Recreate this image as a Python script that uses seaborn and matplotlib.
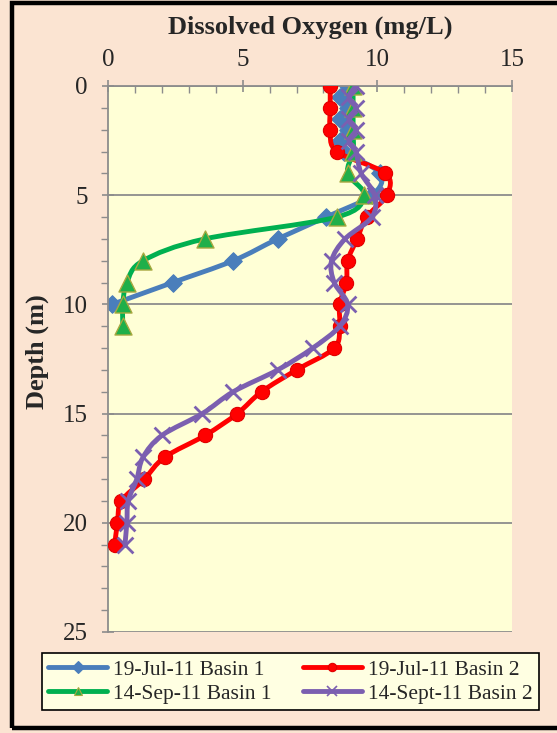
import numpy as np
import pandas as pd
import matplotlib
matplotlib.use("Agg")
import matplotlib.pyplot as plt
from matplotlib.patches import Rectangle, PathPatch
from matplotlib.path import Path
from matplotlib.lines import Line2D
from matplotlib.ticker import MultipleLocator
import seaborn as sns

# Dissolved oxygen profiles (mg/L) against depth (m)
jul_b1_depth = [0, 0.5, 1, 1.5, 2, 2.5, 3, 4, 5, 6, 7, 8, 9, 10]
jul_b1_do = [8.9, 8.6, 8.9, 8.6, 8.9, 8.6, 8.75, 10.1, 9.8, 8.1, 6.3, 4.65, 2.4, 0.15]

jul_b2_depth = list(range(0, 22))
jul_b2_do = [8.25, 8.25, 8.25, 8.5, 10.3, 10.35, 9.6, 9.25, 8.9, 8.85, 8.6,
             8.6, 8.4, 7.0, 5.7, 4.8, 3.6, 2.1, 1.35, 0.5, 0.35, 0.25]

sep_b1_depth = list(range(0, 12))
sep_b1_do = [9.1, 9.1, 9.1, 9.1, 8.9, 9.5, 8.5, 3.6, 1.3, 0.7, 0.55, 0.55]

sep_b2_depth = [0, 0.5, 1, 1.5, 2, 2.5, 3] + list(range(4, 22))
sep_b2_do = [9.2, 8.95, 9.2, 8.95, 9.2, 8.95, 9.2,
             9.4, 9.9, 9.8, 8.8, 8.3, 8.4, 8.9, 8.6, 7.6, 6.3, 4.65, 3.5,
             2.0, 1.3, 1.07, 0.75, 0.7, 0.63]

x_ticks = [0, 5, 10, 15]
y_ticks = [0, 5, 10, 15, 20, 25]

PEACH = "#FBE4D2"
PLOT_BG = "#FFFFD6"
LINE_W = 3.5


def smooth_path(xs, ys):
    """Cubic Bezier path through the points (spreadsheet-style smoothed line)."""
    pts = np.column_stack([xs, ys]).astype(float)
    n = len(pts)
    verts = [pts[0]]
    codes = [Path.MOVETO]
    for i in range(n - 1):
        p0 = pts[i - 1] if i > 0 else pts[i]
        p1, p2 = pts[i], pts[i + 1]
        p3 = pts[i + 2] if i + 2 < n else pts[i + 1]
        c1 = p1 + (p2 - p0) / 6.0
        c2 = p2 - (p3 - p1) / 6.0
        verts += [c1, c2, p2]
        codes += [Path.CURVE4] * 3
    return Path(verts, codes)


sns.set_style("white")
plt.rcParams["font.family"] = ["Liberation Serif", "DejaVu Serif"]

fig = plt.figure(figsize=(5.57, 7.33), dpi=100, facecolor=PEACH)
ax = fig.add_axes([108 / 557, 1 - 632 / 733, (512 - 108) / 557, (632 - 86) / 733])
ax.set_facecolor(PLOT_BG)

series = [
    ("19-Jul-11 Basin 1", jul_b1_depth, jul_b1_do, "#4A7EBB",
     dict(marker="D", s=80, edgecolor="#4A7EBB", facecolor="#4A7EBB", linewidth=0.8)),
    ("19-Jul-11 Basin 2", jul_b2_depth, jul_b2_do, "#FF0000",
     dict(marker="o", s=105, edgecolor="#E00000", facecolor="#FF0000", linewidth=0.8)),
    ("14-Sep-11 Basin 1", sep_b1_depth, sep_b1_do, "#00B050",
     dict(marker="^", s=150, edgecolor="#A8A840", facecolor="#1FAF4A", linewidth=1.0)),
    ("14-Sept-11 Basin 2", sep_b2_depth, sep_b2_do, "#7B5FB0",
     dict(marker="x", s=130, color="#7B5FB0", linewidth=2.0)),
]

legend_handles = []
for k, (label, depth, do, color, mstyle) in enumerate(series):
    df = pd.DataFrame({"do": do, "depth": depth})
    ax.add_patch(PathPatch(smooth_path(df["do"], df["depth"]), fill=False,
                           edgecolor=color, lw=LINE_W, capstyle="round",
                           joinstyle="round", zorder=2 + k))
    sns.scatterplot(data=df, x="do", y="depth", ax=ax, zorder=2.5 + k,
                    legend=False, **mstyle)
    mk = mstyle["marker"]
    mec = mstyle.get("edgecolor", color)
    mfc = mstyle.get("facecolor", color)
    legend_handles.append(Line2D([], [], color=color, lw=LINE_W, marker=mk,
                                 ms=6 if mk != "x" else 7, mec=mec, mfc=mfc,
                                 mew=1.2 if mk == "x" else 0.8, label=label))

ax.set_xlim(0, 15)
ax.set_ylim(25, 0)
ax.set_xticks(x_ticks)
ax.set_yticks(y_ticks)
ax.xaxis.set_minor_locator(MultipleLocator(1))
ax.yaxis.set_minor_locator(MultipleLocator(1))
ax.xaxis.tick_top()
ax.set_xlabel("")
ax.set_ylabel("")

ax.grid(axis="y", which="major", color="#8C8C8C", lw=1.3)
ax.grid(axis="x", visible=False)
ax.set_axisbelow(True)

for side in ["right", "bottom"]:
    ax.spines[side].set_visible(False)
for side in ["top", "left"]:
    ax.spines[side].set_color("#8C8C8C")
    ax.spines[side].set_linewidth(1.3)

ax.tick_params(axis="x", which="major", top=True, bottom=False, direction="inout",
               length=9, width=1.2, color="#8C8C8C", labelsize=18, pad=6)
ax.tick_params(axis="x", which="minor", top=True, bottom=False, direction="in",
               length=5, width=1.0, color="#8C8C8C")
ax.tick_params(axis="y", which="major", left=True, direction="inout",
               length=9, width=1.2, color="#8C8C8C", labelsize=18, pad=10)
ax.tick_params(axis="y", which="minor", left=True, direction="out",
               length=5, width=1.0, color="#8C8C8C")

fig.text(310 / 557, 1 - 27 / 733, "Dissolved Oxygen (mg/L)", ha="center",
         va="center", fontsize=19, fontweight="bold")
fig.text(37 / 557, 1 - 352 / 733, "Depth (m)", ha="center", va="center",
         rotation=90, fontsize=19, fontweight="bold")

order = [0, 2, 1, 3]
leg = fig.legend([legend_handles[i] for i in order],
                 [legend_handles[i].get_label() for i in order],
                 ncol=2, loc="upper left", bbox_to_anchor=(42 / 557, 1 - 653 / 733),
                 fontsize=15.5, handlelength=2.7, handletextpad=0.28,
                 columnspacing=1.5, borderaxespad=0, borderpad=0.3, labelspacing=0.2,
                 frameon=True, fancybox=False, facecolor="#FFFFE2", edgecolor="black")
leg.get_frame().set_linewidth(1.2)
leg.get_frame().set_alpha(1)

fig.add_artist(Rectangle((12 / 557, 1 - 728 / 733), 1.0, (728 - 3) / 733,
                         transform=fig.transFigure, fill=False, lw=3.2,
                         edgecolor="black"))

fig.savefig("out.png", dpi=100, facecolor=PEACH)
